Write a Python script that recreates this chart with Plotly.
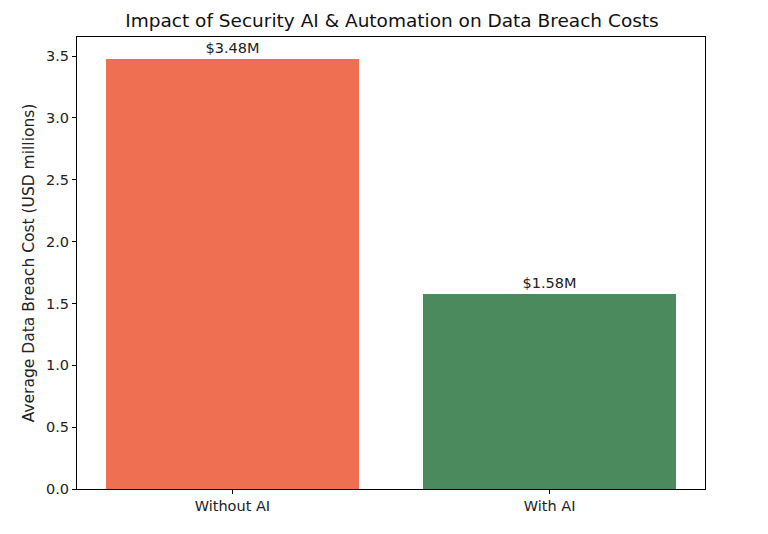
import plotly.graph_objects as go

categories = ["Without AI", "With AI"]
values = [3.48, 1.58]
labels = ["$3.48M", "$1.58M"]
colors = ["#EE6F52", "#4A8A5C"]
positions = [0, 1]

fig = go.Figure()
fig.add_trace(go.Bar(
    x=positions, y=values, width=0.8,
    marker=dict(color=colors, line=dict(width=0)),
    text=labels, textposition="outside", cliponaxis=False,
    textfont=dict(family="DejaVu Sans", size=14.5, color="#222"),
))

fig.update_layout(
    width=768, height=534,
    paper_bgcolor="white", plot_bgcolor="white",
    margin=dict(l=69, r=71, t=29, b=53),
    font=dict(family="DejaVu Sans", size=14.5, color="#222"),
    title=dict(text="Impact of Security AI & Automation on Data Breach Costs",
               x=0.5, xanchor="center", y=0.977, yanchor="middle",
               font=dict(family="DejaVu Sans", size=18.5, color="#111")),
    showlegend=False, bargap=0,
)
fig.update_xaxes(
    range=[-0.49, 1.49], tickvals=positions, ticktext=categories,
    showline=True, linecolor="black", linewidth=1, mirror=True,
    ticks="outside", ticklen=4, tickcolor="black", showgrid=False, zeroline=False,
    tickfont=dict(size=14.5),
)
fig.update_yaxes(
    range=[0, 3.654], tickvals=[0, 0.5, 1.0, 1.5, 2.0, 2.5, 3.0, 3.5],
    tickformat=".1f",
    showline=True, linecolor="black", linewidth=1, mirror=True,
    ticks="outside", ticklen=4, tickcolor="black", showgrid=False, zeroline=False,
    title=dict(text="Average Data Breach Cost (USD millions)", font=dict(size=15.5), standoff=7),
    tickfont=dict(size=14.5),
)

fig.write_html("out.html")
